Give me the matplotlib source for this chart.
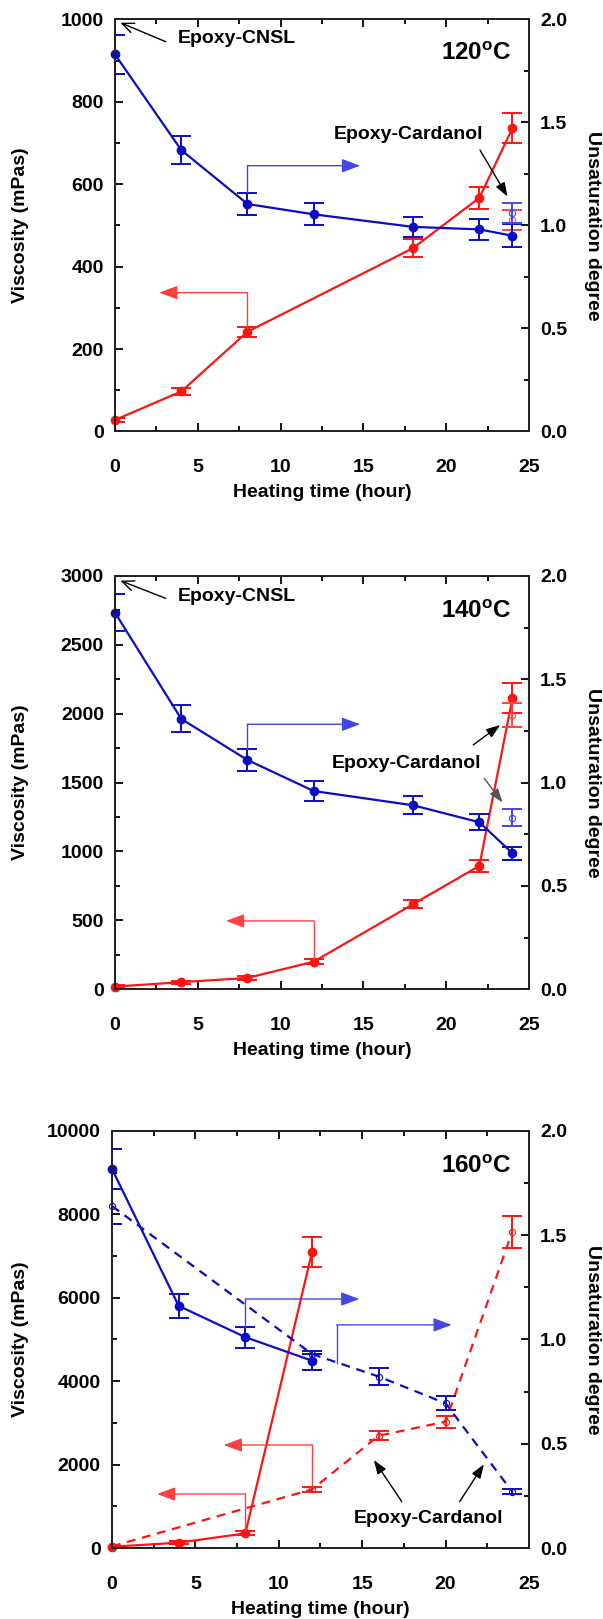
import numpy as np
import matplotlib
matplotlib.use('Agg')
import matplotlib.pyplot as plt
from matplotlib.ticker import MultipleLocator, FormatStrFormatter

plt.rcParams['font.family'] = ['Liberation Sans', 'DejaVu Sans']
plt.rcParams['font.weight'] = 'bold'
plt.rcParams['mathtext.fontset'] = 'custom'
plt.rcParams['mathtext.rm'] = 'Liberation Sans:bold'

BLUE = '#0C0CC4'
RED = '#FF1414'
BLUE_L = '#4646E6'
RED_L = '#FF4040'

############## 120 C ################
t120_visc = [0, 4, 8, 18, 22, 24]
visc120 = [28, 97, 242, 445, 567, 736]
visc120_err = [5, 8, 12, 22, 26, 37]
t120_unsat = [0, 4, 8, 12, 18, 22, 24]
unsat120 = [1.83, 1.366, 1.104, 1.054, 0.993, 0.981, 0.95]
unsat120_err = [0.093, 0.068, 0.055, 0.054, 0.05, 0.05, 0.056]
card120_t = [24]
card120_visc = [513]
card120_visc_err = [24]
card120_unsat = [1.06]
card120_unsat_err = [0.05]

############## 140 C ################
t140 = [0, 4, 8, 12, 18, 22, 24]
visc140 = [19, 51, 82, 200, 617, 895, 2112]
visc140_err = [10, 10, 12, 20, 30, 43, 109]
unsat140 = [1.822, 1.308, 1.109, 0.959, 0.89, 0.808, 0.658]
unsat140_err = [0.091, 0.065, 0.054, 0.049, 0.044, 0.039, 0.032]
card140_t = [24]
card140_visc = [1990]
card140_visc_err = [87]
card140_unsat = [0.83]
card140_unsat_err = [0.042]

############## 160 C ################
t160 = [0, 4, 8, 12]
visc160 = [31, 127, 352, 7106]
visc160_err = [20, 30, 50, 360]
unsat160 = [1.818, 1.161, 1.011, 0.898]
unsat160_err = [0.094, 0.058, 0.05, 0.045]
card160_t = [0, 12, 16, 20, 24]
card160_visc = [40, 1407, 2693, 3029, 7585]
card160_visc_err = [0, 65, 115, 140, 380]
card160_unsat = [1.64, 0.93, 0.822, 0.694, 0.27]
card160_unsat_err = [0.084, 0, 0.042, 0.034, 0.012]

x_ticks = [0, 5, 10, 15, 20, 25]
FS = 14

fig = plt.figure(figsize=(6.03, 16.19), dpi=100)


def series(axis, t, y, err, color, ls='-', open_mark=False):
    # error bars are clipped at the frame, markers are not
    axis.errorbar(t, y, yerr=err, fmt='none', ecolor=color, elinewidth=1.4,
                  capsize=7.5, capthick=1.4)
    if open_mark:
        axis.plot(t, y, ls=ls, color=color, lw=1.6, marker='o', ms=4.5,
                  mfc='none', mec=color, mew=0.8, clip_on=False)
    else:
        axis.plot(t, y, ls=ls, color=color, lw=1.6, marker='o', ms=6,
                  clip_on=False)


def bracket(axis, x0, y0, y1, x1, color):
    axis.plot([x0, x0], [y0, y1], color=color, lw=1)
    axis.annotate('', xy=(x1, y1), xytext=(x0, y1),
                  arrowprops=dict(arrowstyle='-|>,head_length=0.8,head_width=0.3',
                                  color=color, lw=1, shrinkA=0, shrinkB=0,
                                  mutation_scale=14))


def pointer(axis, tail, tip, color='k', style='-|>,head_length=0.7,head_width=0.25'):
    axis.annotate('', xy=tip, xytext=tail,
                  arrowprops=dict(arrowstyle=style, color=color, lw=1,
                                  shrinkA=0, shrinkB=0, mutation_scale=12))


def frame(rect, ymax, ymaj, ymin):
    ax = fig.add_axes(rect)
    ax2 = ax.twinx()
    ax.set_xlim(0, 25)
    ax.set_ylim(0, ymax)
    ax2.set_ylim(0, 2)
    ax.set_xticks(x_ticks)
    ax.xaxis.set_minor_locator(MultipleLocator(2.5))
    ax.yaxis.set_major_locator(MultipleLocator(ymaj))
    ax.yaxis.set_minor_locator(MultipleLocator(ymin))
    ax2.yaxis.set_major_locator(MultipleLocator(0.5))
    ax2.yaxis.set_minor_locator(MultipleLocator(0.25))
    ax2.yaxis.set_major_formatter(FormatStrFormatter('%.1f'))
    ax.tick_params(axis='x', which='both', direction='in', top=True, pad=20,
                   labelsize=FS, width=1.3)
    ax.tick_params(axis='y', which='both', direction='in', right=False, pad=8,
                   labelsize=FS, width=1.3)
    ax2.tick_params(axis='y', which='both', direction='in', left=False, right=True,
                    pad=8, labelsize=FS, width=1.3)
    for a in (ax, ax2):
        a.tick_params(which='major', length=6)
        a.tick_params(which='minor', length=3.5)
        for s in a.spines.values():
            s.set_linewidth(1.3)
            s.set_color('#222222')
    w_px = rect[2] * 603
    left_px = rect[0] * 603
    ax.set_xlabel('Heating time (hour)', fontsize=FS, fontweight='bold', va='center')
    ax.xaxis.set_label_coords(0.5, -61 / (rect[3] * 1619))
    ax.set_ylabel('Viscosity (mPas)', fontsize=FS, fontweight='bold', va='center')
    ax.yaxis.set_label_coords((20.5 - left_px) / w_px, 0.5)
    ax2.set_ylabel('Unsaturation degree', fontsize=FS, fontweight='bold',
                   rotation=-90, va='center')
    ax2.yaxis.set_label_coords((593 - left_px) / w_px, 0.5)
    return ax, ax2


############## Panel 1 ################
ax, ax2 = frame([0.1907, 0.7335, 0.6866, 0.2545], 1000, 200, 100)
series(ax, t120_visc, visc120, visc120_err, RED)
series(ax, card120_t, card120_visc, card120_visc_err, RED_L, open_mark=True)
series(ax2, t120_unsat, unsat120, unsat120_err, BLUE)
series(ax2, card120_t, card120_unsat, card120_unsat_err, BLUE_L, open_mark=True)
bracket(ax, 8, 254, 337, 2.67, RED_L)
bracket(ax2, 8, 1.16, 1.29, 14.8, BLUE_L)
ax.text(3.76, 954, 'Epoxy-CNSL', fontsize=14, va='center')
pointer(ax, (3.06, 946), (0.33, 992), style='->,head_length=0.7,head_width=0.3')
ax.text(23.95, 918, r'$\mathrm{120^{o}C}$', fontsize=17.5, ha='right', va='center')
ax.text(13.2, 720, 'Epoxy-Cardanol', fontsize=14, va='center')
pointer(ax, (22.04, 683), (23.7, 570))

############## Panel 2 ################
ax, ax2 = frame([0.1907, 0.3890, 0.6866, 0.2553], 3000, 500, 250)
series(ax, t140, visc140, visc140_err, RED)
series(ax, card140_t, card140_visc, card140_visc_err, RED_L, open_mark=True)
series(ax2, t140, unsat140, unsat140_err, BLUE)
series(ax2, card140_t, card140_unsat, card140_unsat_err, BLUE_L, open_mark=True)
bracket(ax, 12, 220, 496, 6.7, RED_L)
bracket(ax2, 8, 1.164, 1.282, 14.8, BLUE_L)
ax.text(3.76, 2849, 'Epoxy-CNSL', fontsize=14, va='center')
pointer(ax, (3.06, 2837), (0.33, 2965), style='->,head_length=0.7,head_width=0.3')
ax.text(23.95, 2740, r'$\mathrm{140^{o}C}$', fontsize=17.5, ha='right', va='center')
ax.text(13.1, 1640, 'Epoxy-Cardanol', fontsize=14, va='center')
pointer(ax, (21.63, 1773), (23.26, 1918))
pointer(ax, (22.3, 1530), (23.4, 1355), color='#555555')

############## Panel 3 ################
ax, ax2 = frame([0.1857, 0.04385, 0.6915, 0.2576], 10000, 2000, 1000)
series(ax, t160, visc160, visc160_err, RED)
series(ax, card160_t, card160_visc, card160_visc_err, RED, ls=(0, (4, 3)), open_mark=True)
series(ax2, t160, unsat160, unsat160_err, BLUE)
series(ax2, card160_t, card160_unsat, card160_unsat_err, BLUE, ls=(0, (4, 3)), open_mark=True)
bracket(ax, 8, 420, 1295, 2.7, RED_L)
bracket(ax, 12, 1470, 2470, 6.7, RED_L)
bracket(ax2, 8, 1.062, 1.194, 14.83, BLUE_L)
bracket(ax2, 13.47, 0.886, 1.07, 20.37, BLUE_L)
ax.text(23.95, 9144, r'$\mathrm{160^{o}C}$', fontsize=17.5, ha='right', va='center')
ax.text(14.5, 712, 'Epoxy-Cardanol', fontsize=14, va='center')
pointer(ax, (17.38, 1110), (15.7, 2110))
pointer(ax, (20.84, 1110), (22.3, 2007))

fig.savefig('out.png', dpi=100)
